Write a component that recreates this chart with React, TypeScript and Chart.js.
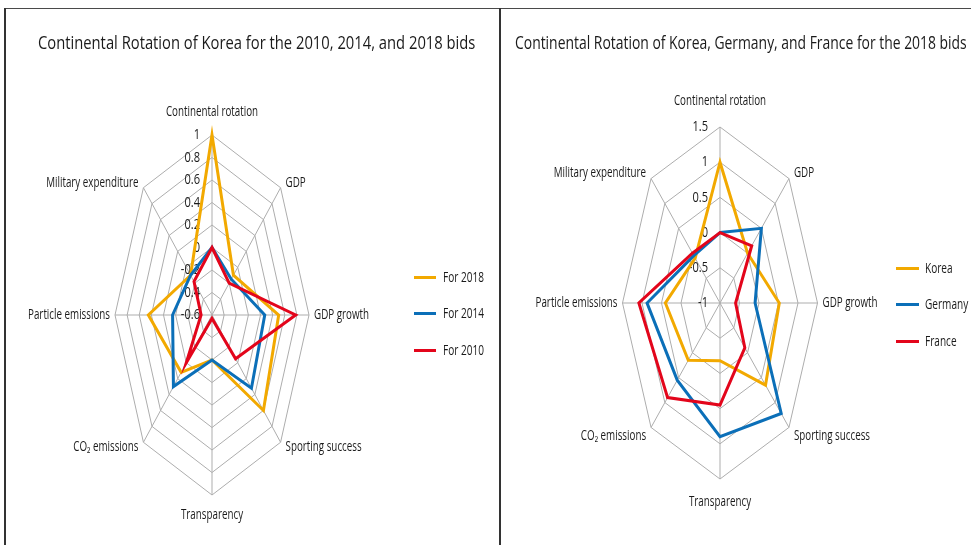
import React, { useEffect, useRef } from "react";
import { Chart, registerables, RadialLinearScale } from "chart.js";

Chart.register(...registerables);

// ---------- data ----------
const AXIS_LABELS = [
  "Continental rotation",
  "GDP",
  "GDP growth",
  "Sporting success",
  "Transparency",
  "CO₂ emissions",
  "Particle emissions",
  "Military expenditure",
];

const LEFT_TITLE = "Continental Rotation of Korea for the 2010, 2014, and 2018 bids";
const LEFT_SERIES_NAMES = ["For 2018", "For 2014", "For 2010"];
const LEFT_2018 = [1, -0.1, 0.5, 0.6, -0.2, 0.12, 0.45, -0.1];
const LEFT_2014 = [0, -0.15, 0.27, 0.32, -0.2, 0.3, 0.05, -0.1];
const LEFT_2010 = [0, -0.2, 0.78, -0.05, -0.57, 0.0, -0.42, -0.18];
const LEFT_TICKS = [-0.6, -0.4, -0.2, 0, 0.2, 0.4, 0.6, 0.8, 1];

const RIGHT_TITLE = "Continental Rotation of Korea, Germany, and France for the 2018 bids";
const RIGHT_SERIES_NAMES = ["Korea", "Germany", "France"];
const RIGHT_KOREA = [1, 0, 0.52, 0.65, -0.18, 0.15, 0.4, -0.1];
const RIGHT_GERMANY = [0, 0.5, -0.1, 1.22, 0.9, 0.55, 0.87, -0.05];
const RIGHT_FRANCE = [0, 0.15, -0.6, -0.1, 0.45, 0.9, 1.08, 0];
const RIGHT_TICKS = [-1, -0.5, 0, 0.5, 1, 1.5];

const SERIES_COLORS = ["#F2A900", "#0B6FB8", "#E3051B"];

// ---------- styles ----------
const FONT_FAMILY = '"Open Sans", "DejaVu Sans", sans-serif';
const TEXT_COLOR = "#1a1a1a";
const GRID_COLOR = "#adadad";
const LABEL_SIZE = 14;
const LABEL_K = 0.7;
const TICK_SIZE = 15;
const TICK_K = 0.74;
const TITLE_SIZE = 19;
const LEGEND_SIZE = 14;
const LEGEND_K = 0.72;
const LABEL_GAP_H = 5;
const TICK_GAP = 12;

Chart.defaults.font.family = FONT_FAMILY;

function drawCondensed(
  ctx: CanvasRenderingContext2D,
  text: string,
  x: number,
  y: number,
  align: CanvasTextAlign,
  size: number,
  k: number
) {
  ctx.save();
  ctx.font = `${size}px ${FONT_FAMILY}`;
  ctx.fillStyle = TEXT_COLOR;
  ctx.textAlign = align;
  ctx.textBaseline = "middle";
  ctx.translate(x, y);
  ctx.scale(k, 1);
  ctx.fillText(text, 0, 0);
  ctx.restore();
}

// Radial scale whose horizontal extent is squeezed (elliptical radar)
class StretchRadialScale extends RadialLinearScale {
  static id = "stretchRadial";

  getPointPosition(index: number, distance: number, additionalAngle = 0) {
    const p = super.getPointPosition(index, distance, additionalAngle);
    const k = (this.options as any).xStretch ?? 1;
    return { x: this.xCenter + (p.x - this.xCenter) * k, y: p.y, angle: p.angle };
  }

  drawGrid() {
    super.drawGrid();
    const ctx = this.ctx;
    const opts: any = this.options;
    const gapTop = opts.labelGapTop ?? 22;
    const gapBottom = opts.labelGapBottom ?? 22;
    const diagUp = opts.labelDiagUp ?? 6;
    const diagDown = opts.labelDiagDown ?? 6;
    const labels: string[] = (this as any)._pointLabels || [];
    const R = this.drawingArea;
    labels.forEach((text, i) => {
      const v = this.getPointPosition(i, R);
      const cos = Math.cos(v.angle);
      const sin = Math.sin(v.angle);
      let align: CanvasTextAlign = "center";
      let x = v.x;
      let y = v.y;
      if (Math.abs(cos) < 0.01) {
        y += sin < 0 ? -gapTop : gapBottom;
      } else {
        align = cos > 0 ? "left" : "right";
        x += cos > 0 ? LABEL_GAP_H : -LABEL_GAP_H;
        if (Math.abs(sin) > 0.01) y += sin > 0 ? diagDown : -diagUp;
      }
      drawCondensed(ctx, text, x, y, align, LABEL_SIZE, LABEL_K);
    });
  }

  drawLabels() {
    const opts: any = this.options;
    if (!opts.ticks.display) return;
    const ctx = this.ctx;
    (this.ticks as any[]).forEach((t) => {
      const off = this.getDistanceFromCenterForValue(t.value);
      drawCondensed(ctx, String(t.label), this.xCenter - TICK_GAP, this.yCenter - off, "right", TICK_SIZE, TICK_K);
    });
  }
}
Chart.register(StretchRadialScale);

type PanelProps = {
  left: number;
  width: number;
  height: number;
  names: string[];
  series: number[][];
  ticks: number[];
  cx: number;
  cy: number;
  radius: number;
  xStretch: number;
  gapTop: number;
  gapBottom: number;
  diagUp: number;
  diagDown: number;
};

function RadarCanvas(p: PanelProps) {
  const ref = useRef<HTMLCanvasElement>(null);
  useEffect(() => {
    const half = p.radius + TICK_SIZE / 2;
    const chart = new Chart(ref.current as HTMLCanvasElement, {
      type: "radar",
      data: {
        labels: AXIS_LABELS,
        datasets: p.series.map((vals, i) => ({
          label: p.names[i],
          data: vals,
          borderColor: SERIES_COLORS[i],
          backgroundColor: SERIES_COLORS[i],
          borderWidth: 3,
          fill: false,
          pointRadius: 0,
          pointHoverRadius: 0,
          tension: 0,
          borderJoinStyle: "miter",
          order: p.series.length - 1 - i,
          clip: false,
        })),
      },
      options: {
        responsive: false,
        animation: false,
        devicePixelRatio: 1,
        events: [],
        layout: {
          padding: {
            left: p.cx - half,
            right: p.width - (p.cx + half),
            top: p.cy - half,
            bottom: p.height - (p.cy + half),
          },
        },
        plugins: {
          legend: { display: false },
          tooltip: { enabled: false },
          title: { display: false },
        },
        scales: {
          r: {
            type: "stretchRadial",
            xStretch: p.xStretch,
            labelGapTop: p.gapTop,
            labelGapBottom: p.gapBottom,
            labelDiagUp: p.diagUp,
            labelDiagDown: p.diagDown,
            min: p.ticks[0],
            max: p.ticks[p.ticks.length - 1],
            beginAtZero: false,
            afterBuildTicks: (s: any) => {
              s.ticks = p.ticks.map((value) => ({ value }));
            },
            ticks: {
              display: true,
              font: { size: TICK_SIZE },
              backdropPadding: 0,
              showLabelBackdrop: false,
              color: TEXT_COLOR,
              callback: (v: any) => String(v),
            },
            pointLabels: { display: false },
            grid: { color: GRID_COLOR, lineWidth: 1 },
            angleLines: { color: GRID_COLOR, lineWidth: 1 },
          } as any,
        },
      } as any,
    });
    return () => chart.destroy();
  }, []);
  return (
    <canvas
      ref={ref}
      width={p.width}
      height={p.height}
      style={{ position: "absolute", left: p.left, top: 0 }}
    />
  );
}

function Text(props: { text: string; left: number; cy: number; size: number; k: number }) {
  return (
    <div
      style={{
        position: "absolute",
        left: props.left,
        top: props.cy - props.size * 0.7,
        fontSize: props.size,
        lineHeight: `${props.size * 1.4}px`,
        fontFamily: FONT_FAMILY,
        color: TEXT_COLOR,
        whiteSpace: "nowrap",
        transform: `scaleX(${props.k})`,
        transformOrigin: "left center",
      }}
    >
      {props.text}
    </div>
  );
}

function Legend(props: { names: string[]; lineLeft: number; lineWidth: number; textLeft: number; ys: number[] }) {
  return (
    <>
      {props.names.map((n, i) => (
        <React.Fragment key={n}>
          <div
            style={{
              position: "absolute",
              left: props.lineLeft,
              top: props.ys[i] - 1.5,
              width: props.lineWidth,
              height: 3,
              background: SERIES_COLORS[i],
            }}
          />
          <Text text={n} left={props.textLeft} cy={props.ys[i]} size={LEGEND_SIZE} k={LEGEND_K} />
        </React.Fragment>
      ))}
    </>
  );
}

export default function App() {
  return (
    <div
      style={{
        position: "absolute",
        left: 0,
        top: 0,
        width: 971,
        height: 545,
        overflow: "hidden",
        background: "#ffffff",
      }}
    >
      <RadarCanvas
        left={0}
        width={500}
        height={545}
        names={LEFT_SERIES_NAMES}
        series={[LEFT_2018, LEFT_2014, LEFT_2010]}
        ticks={LEFT_TICKS}
        cx={212}
        cy={315}
        radius={180}
        xStretch={97 / 180}
        gapTop={23}
        gapBottom={20}
        diagUp={5}
        diagDown={5}
      />
      <RadarCanvas
        left={500}
        width={471}
        height={545}
        names={RIGHT_SERIES_NAMES}
        series={[RIGHT_KOREA, RIGHT_GERMANY, RIGHT_FRANCE]}
        ticks={RIGHT_TICKS}
        cx={220}
        cy={303}
        radius={176}
        xStretch={97.5 / 176}
        gapTop={26}
        gapBottom={23}
        diagUp={6}
        diagDown={9}
      />
      <Text text={LEFT_TITLE} left={38} cy={42} size={TITLE_SIZE} k={0.777} />
      <Text text={RIGHT_TITLE} left={515} cy={42} size={TITLE_SIZE} k={0.732} />
      <Legend names={LEFT_SERIES_NAMES} lineLeft={414} lineWidth={22} textLeft={443} ys={[277, 313, 350]} />
      <Legend names={RIGHT_SERIES_NAMES} lineLeft={896} lineWidth={23} textLeft={925} ys={[268, 304, 341]} />
      <div style={{ position: "absolute", left: 4, top: 8, width: 967, height: 1, background: "#4a4a4a" }} />
      <div style={{ position: "absolute", left: 4, top: 8, width: 2, height: 537, background: "#333" }} />
      <div style={{ position: "absolute", left: 499, top: 8, width: 2, height: 537, background: "#333" }} />
    </div>
  );
}
